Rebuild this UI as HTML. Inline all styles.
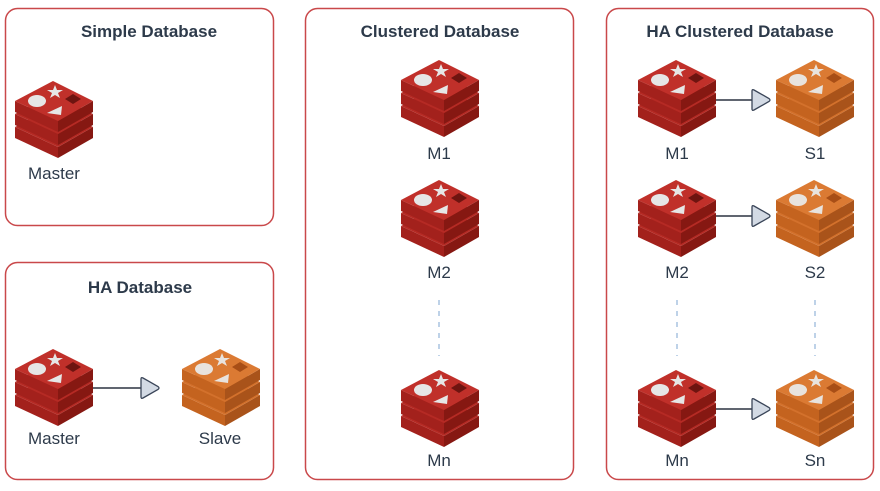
<!DOCTYPE html>
<html><head><meta charset="utf-8"><style>
html,body{margin:0;padding:0;background:#fff;}
svg text{font-family:"Liberation Sans",sans-serif;fill:#2d3a4a;}
</style></head><body>
<svg width="880" height="486" viewBox="0 0 880 486" xmlns="http://www.w3.org/2000/svg">
<defs>
<g id="red">
  <g transform="translate(0,26)">
    <path d="M0,20 L0,31 L43,51 L43,40 Z" fill="#a3211c"/>
    <path d="M43,40 L43,51 L78,31 L78,20 Z" fill="#861812"/>
    <path d="M0,20 L38,0 L78,20 L43,40 Z" fill="#b52a24"/>
  </g>
  <g transform="translate(0,13)">
    <path d="M0,20 L0,31 L43,51 L43,40 Z" fill="#a3211c"/>
    <path d="M43,40 L43,51 L78,31 L78,20 Z" fill="#861812"/>
    <path d="M0,20 L38,0 L78,20 L43,40 Z" fill="#b52a24"/>
  </g>
  <path d="M0,20 L0,31 L43,51 L43,40 Z" fill="#a3211c"/>
  <path d="M43,40 L43,51 L78,31 L78,20 Z" fill="#861812"/>
  <path d="M0,20 L38,0 L78,20 L43,40 Z" fill="#c0302a"/>
  <ellipse cx="22" cy="20" rx="9" ry="6" fill="#e6e6e6"/>
  <path d="M40,4 L42,9 L48,9 L43,12 L45,17 L40,14 L35,17 L37,12 L32,9 L38,9 Z" fill="#e6e6e6"/>
  <path d="M32,32 L47,25 L46,34 Z" fill="#e6e6e6"/>
  <path d="M50,18 L58,13 L66,18 L58,23 Z" fill="#6e1410"/>
</g>
<g id="orange">
  <g transform="translate(0,26)">
    <path d="M0,20 L0,31 L43,51 L43,40 Z" fill="#c4631f"/>
    <path d="M43,40 L43,51 L78,31 L78,20 Z" fill="#a9531a"/>
    <path d="M0,20 L38,0 L78,20 L43,40 Z" fill="#d3712c"/>
  </g>
  <g transform="translate(0,13)">
    <path d="M0,20 L0,31 L43,51 L43,40 Z" fill="#c4631f"/>
    <path d="M43,40 L43,51 L78,31 L78,20 Z" fill="#a9531a"/>
    <path d="M0,20 L38,0 L78,20 L43,40 Z" fill="#d3712c"/>
  </g>
  <path d="M0,20 L0,31 L43,51 L43,40 Z" fill="#c4631f"/>
  <path d="M43,40 L43,51 L78,31 L78,20 Z" fill="#a9531a"/>
  <path d="M0,20 L38,0 L78,20 L43,40 Z" fill="#db7a33"/>
  <ellipse cx="22" cy="20" rx="9" ry="6" fill="#e8e3de"/>
  <path d="M40,4 L42,9 L48,9 L43,12 L45,17 L40,14 L35,17 L37,12 L32,9 L38,9 Z" fill="#e8e3de"/>
  <path d="M32,32 L47,25 L46,34 Z" fill="#e8e3de"/>
  <path d="M50,18 L58,13 L66,18 L58,23 Z" fill="#a84e16"/>
</g>
<g id="tri">
  <path d="M0,-9 Q0,-11 2,-10 L17,-1.5 Q19,0 17,1.5 L2,10 Q0,11 0,9 Z" fill="#d3dae4" stroke="#3a4558" stroke-width="1.3"/>
</g>
</defs>

<g fill="none" stroke="#c9484a" stroke-width="1.5">
<rect x="5.5" y="8.5" width="268" height="217" rx="12"/>
<rect x="5.5" y="262.5" width="268" height="217" rx="12"/>
<rect x="305.5" y="8.5" width="268" height="471" rx="12"/>
<rect x="606.5" y="8.5" width="267" height="471" rx="12"/>
</g>

<g font-weight="bold" font-size="17" text-anchor="middle">
<text x="149" y="37">Simple Database</text>
<text x="140" y="293">HA Database</text>
<text x="440" y="37">Clustered Database</text>
<text x="740" y="37">HA Clustered Database</text>
</g>

<use href="#red" x="15" y="81"/>
<use href="#red" x="15" y="349"/>
<use href="#orange" x="182" y="349"/>
<line x1="93" y1="388" x2="141" y2="388" stroke="#2b3240" stroke-width="1.5"/>
<use href="#tri" x="141" y="388"/>

<use href="#red" x="401" y="60"/>
<use href="#red" x="401" y="180"/>
<use href="#red" x="401" y="370"/>
<line x1="439" y1="300" x2="439" y2="356" stroke="#a8c4e0" stroke-width="1.5" stroke-dasharray="5,6"/>

<use href="#red" x="638" y="60"/>
<use href="#red" x="638" y="180"/>
<use href="#red" x="638" y="370"/>
<use href="#orange" x="776" y="60"/>
<use href="#orange" x="776" y="180"/>
<use href="#orange" x="776" y="370"/>
<g stroke="#2b3240" stroke-width="1.5">
<line x1="716" y1="100" x2="752" y2="100"/>
<line x1="716" y1="216" x2="752" y2="216"/>
<line x1="716" y1="409" x2="752" y2="409"/>
</g>
<use href="#tri" x="752" y="100"/>
<use href="#tri" x="752" y="216"/>
<use href="#tri" x="752" y="409"/>
<line x1="677" y1="300" x2="677" y2="356" stroke="#a8c4e0" stroke-width="1.5" stroke-dasharray="5,6"/>
<line x1="815" y1="300" x2="815" y2="356" stroke="#a8c4e0" stroke-width="1.5" stroke-dasharray="5,6"/>

<g font-size="17" text-anchor="middle">
<text x="54" y="179">Master</text>
<text x="54" y="444">Master</text>
<text x="220" y="444">Slave</text>
<text x="439" y="159">M1</text>
<text x="439" y="278">M2</text>
<text x="439" y="466">Mn</text>
<text x="677" y="159">M1</text>
<text x="677" y="278">M2</text>
<text x="677" y="466">Mn</text>
<text x="815" y="159">S1</text>
<text x="815" y="278">S2</text>
<text x="815" y="466">Sn</text>
</g>
</svg>
</body></html>
